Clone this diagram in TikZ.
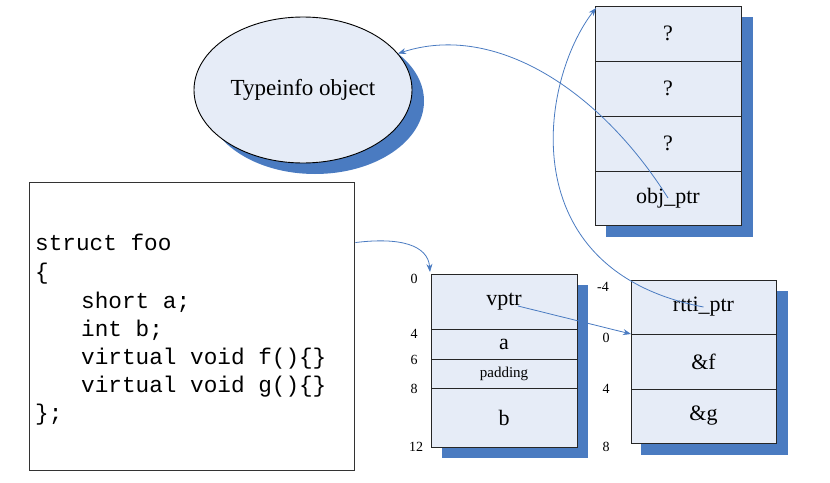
\documentclass[tikz,border=0pt]{standalone}
\usepackage{fontspec}
\setmainfont{Liberation Serif}
\newfontfamily\codefont{Liberation Mono}
\usetikzlibrary{arrows.meta,shapes.geometric,calc}
\definecolor{cellfill}{RGB}{230,236,247}
\definecolor{shadowblue}{RGB}{74,123,193}
\definecolor{arrowblue}{RGB}{74,123,193}
\tikzset{
  cell/.style={draw=black!85, line width=1pt, fill=cellfill, inner sep=0pt, outer sep=0pt, font=\fontsize{22}{24}\selectfont},
  shadowbox/.style={fill=shadowblue},
  offs/.style={font=\fontsize{14}{16}\selectfont, inner sep=0pt},
  codeline/.style={anchor=base west, inner sep=0pt, font=\codefont\fontsize{22.7}{26}\selectfont},
  link/.style={draw=arrowblue, line width=0.8pt, -{Stealth[length=8pt,width=6pt]}},
}
\begin{document}
\begin{tikzpicture}[x=1pt,y=-1pt]
\useasboundingbox (0,0) rectangle (830,482);
% Typeinfo ellipse
\fill[shadowblue] (315,101) ellipse [x radius=109, y radius=73];
\node[ellipse, draw=black, line width=0.9pt, fill=cellfill, minimum width=218pt, minimum height=146pt, inner sep=0pt, font=\fontsize{23}{25}\selectfont] (ell) at (303,90) {Typeinfo object};

% obj box (top right)
\fill[shadowbox] (606,17) rectangle (753,237);
\node[cell, minimum width=146pt, minimum height=55pt] (q1) at (668,33.5) {?};
\node[cell, minimum width=146pt, minimum height=55pt] (q2) at (668,88.5) {?};
\node[cell, minimum width=146pt, minimum height=55pt] (q3) at (668,143.5) {?};
\node[cell, minimum width=146pt, minimum height=54pt] (objptr) at (668,198) {obj\_ptr};

% code box
\node[draw=black!80, line width=0.9pt, minimum width=325pt, minimum height=288pt, inner sep=0pt] (code) at (191.5,326) {};
\node[codeline] (l1) at (35,250) {struct foo};
\node[codeline] (l2) at (35,279) {\{};
\node[codeline] (l3) at (81,308) {short a;};
\node[codeline] (l4) at (81,336) {int b;};
\node[codeline] (l5) at (81,364) {virtual void f()\{\}};
\node[codeline] (l6) at (81,392) {virtual void g()\{\}};
\node[codeline] (l7) at (35,420) {\};};

% object layout box
\fill[shadowbox] (442,285) rectangle (588,458);
\node[cell, minimum width=146pt, minimum height=55pt] (vptr) at (504,301.5) {vptr};
\node[cell, minimum width=146pt, minimum height=30pt] (a) at (504,344) {a};
\node[cell, minimum width=146pt, minimum height=29pt, font=\fontsize{15}{17}\selectfont] (pad) at (504,373.5) {padding};
\node[cell, minimum width=146pt, minimum height=59pt] (b) at (504,417.5) {b};
\node[offs] (o0) at (414,279) {0};
\node[offs] (o4) at (414,334) {4};
\node[offs] (o6) at (414,360) {6};
\node[offs] (o8) at (414,389) {8};
\node[offs] (o12) at (416,447) {12};

% vtable box
\fill[shadowbox] (641,291) rectangle (788,455);
\node[cell, minimum width=145pt, minimum height=54pt] (rtti) at (703.5,307) {rtti\_ptr};
\node[cell, minimum width=145pt, minimum height=55pt] (ff) at (703.5,361.5) {\&f};
\node[cell, minimum width=145pt, minimum height=54pt] (gg) at (703.5,416) {\&g};
\node[offs] (r4) at (603,287) {-4};
\node[offs] (r0) at (606,338) {0};
\node[offs] (r4b) at (606,389) {4};
\node[offs] (r8) at (606,447) {8};

% connectors
\coordinate (codeout) at ($(code.north east)+(1,61)$);
\coordinate (vptrout) at ($(vptr.center)+(14,4.5)$);
\draw[link] (codeout) .. controls (400,237) and (428,245) .. ($(vptr.north west)+(-1,-2)$);
\draw[link] (vptrout) -- (ff.north west);
\draw[link] (rtti.center) .. controls (510,270) and (540,80) .. ($(q1.north west)+(1,2)$);
\draw[link] (objptr.center) .. controls (600,90) and (495,22) .. (ell.21);
\end{tikzpicture}
\end{document}
